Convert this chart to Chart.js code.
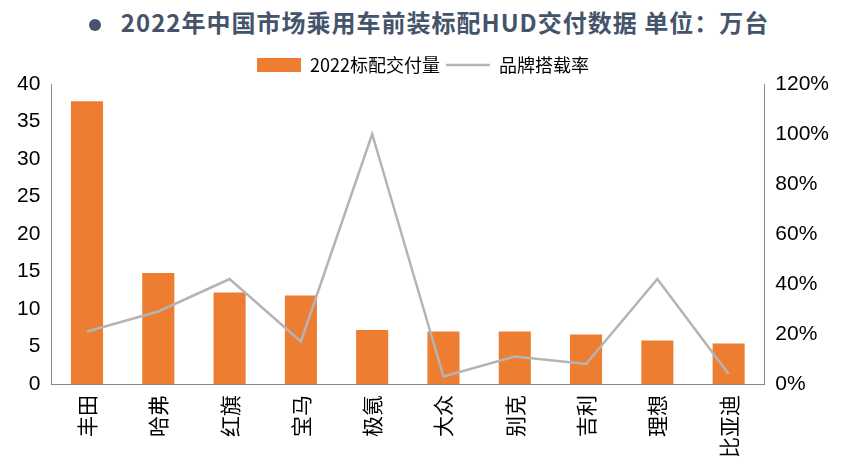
<!DOCTYPE html>
<html>
<head>
<meta charset="utf-8">
<script src="https://cdn.jsdelivr.net/npm/chart.js@4"></script>
<style>
  body { margin: 0; background: #fff; font-family: "Noto Sans CJK SC", "Noto Sans", sans-serif; }
  #title { position: absolute; left: 0; top: 4px; width: 858px; text-align: center; font-size: 24px; font-weight: bold; color: #44546a; letter-spacing: 1px; }
  #title span { display: inline-block; width: 12px; height: 12px; border-radius: 50%; background: #44546a; margin-right: 20px; vertical-align: middle; }
  #wrap { position: absolute; left: 0; top: 50px; width: 858px; height: 421px; }
</style>
</head>
<body>
<div id="title"><span></span>2022年中国市场乘用车前装标配HUD交付数据 单位：万台</div>
<div id="wrap"><canvas id="c"></canvas></div>
<script>
// categories and series
const brands = ["丰田", "哈弗", "红旗", "宝马", "极氪", "大众", "别克", "吉利", "理想", "比亚迪"];
const deliveries = [37.7, 14.8, 12.2, 11.8, 7.2, 7.0, 7.0, 6.6, 5.8, 5.4];
const fitRate = [21, 29, 42, 17, 100, 3, 11, 8, 42, 4];

const ctx = document.getElementById("c").getContext("2d");
new Chart(ctx, {
    data: {
        labels: brands,
        datasets: [
            {
                type: "line",
                label: "品牌搭载率",
                data: fitRate,
                yAxisID: "y1",
                borderColor: "#b4b4b4",
                backgroundColor: "#b4b4b4",
                borderWidth: 2.5,
                pointRadius: 0,
                pointStyle: "line",
                tension: 0,
                order: 0
            },
            {
                type: "bar",
                label: "2022标配交付量",
                data: deliveries,
                yAxisID: "y",
                backgroundColor: "#ed7d31",
                pointStyle: "rect",
                categoryPercentage: 0.9,
                barPercentage: 0.5,
                order: 1
            }
        ]
    },
    options: {
        responsive: true,
        maintainAspectRatio: false,
        animation: false,
        layout: { padding: { left: 14, right: 26, top: 0, bottom: 10 } },
        plugins: {
            legend: {
                reverse: true,
                labels: {
                    usePointStyle: true,
                    pointStyleWidth: 44,
                    font: { size: 18, family: "Noto Sans CJK SC" },
                    color: "#000",
                    boxHeight: 14,
                    padding: 6
                }
            },
            tooltip: { enabled: false }
        },
        scales: {
            x: {
                grid: { display: false },
                border: { color: "#888" },
                ticks: {
                    minRotation: 90, maxRotation: 90,
                    font: { size: 21, family: "Noto Sans CJK SC" },
                    color: "#000"
                }
            },
            y: {
                min: 0, max: 40,
                ticks: { stepSize: 5, font: { size: 21 }, color: "#000" },
                grid: { display: false },
                border: { color: "#888" }
            },
            y1: {
                position: "right",
                min: 0, max: 120,
                ticks: { stepSize: 20, font: { size: 21 }, color: "#000", callback: v => v + "%" },
                grid: { display: false },
                border: { color: "#888" }
            }
        }
    }
});
</script>
</body>
</html>
